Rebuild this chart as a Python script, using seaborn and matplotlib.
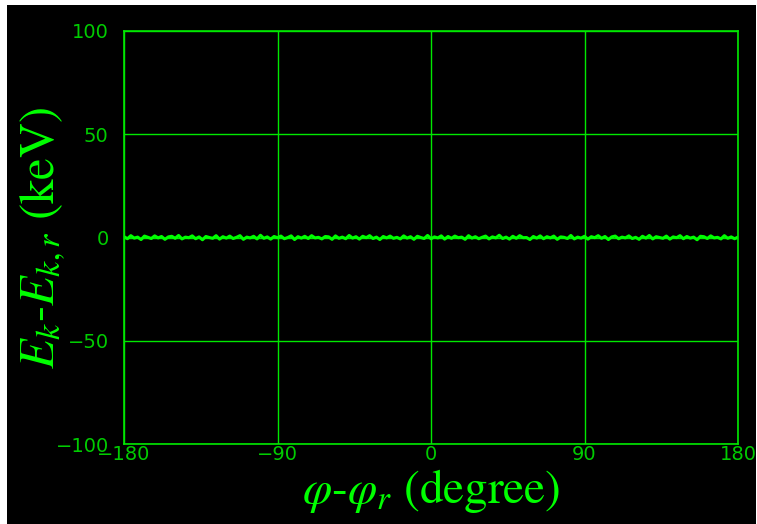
import numpy as np
import matplotlib
matplotlib.use("Agg")
import matplotlib.pyplot as plt
from matplotlib.patches import Rectangle
import pandas as pd
import seaborn as sns

# Energy deviation (keV) sampled across the phase window
dE = [
    0.4, -0.6, 0.9, -0.3, 0.2, -1.0, 0.7, 0.1, -0.5, 0.8,
    -0.2, 0.5, -0.9, 0.3, 0.6, -0.4, 1.0, -0.7, 0.2, -0.1,
    0.8, -0.6, 0.3, -1.1, 0.5, 0.0, -0.4, 0.9, -0.8, 0.4,
    -0.3, 0.7, -0.5, 0.1, 0.9, -0.9, 0.2, -0.2, 0.6, -0.7,
    1.1, -0.4, 0.3, -0.8, 0.5, -0.1, 0.7, -0.6, 0.0, 0.8,
    -1.0, 0.4, -0.3, 0.6, -0.5, 0.9, -0.2, 0.1, -0.7, 0.5,
    0.3, -0.9, 0.8, -0.4, 0.2, -0.6, 1.0, -0.3, 0.4, -0.8,
    0.6, -0.1, 0.9, -0.5, 0.2, -1.0, 0.5, -0.2, 0.7, -0.4,
    0.1, -0.7, 0.8, -0.3, 0.4, -0.9, 0.6, 0.0, -0.5, 1.0,
    -0.6, 0.3, -0.2, 0.8, -0.8, 0.5, -0.4, 0.7, -0.1, 0.2,
    -0.9, 0.9, -0.3, 0.4, -0.6, 0.1, 0.7, -0.7, 0.3, -0.2,
    1.1, -0.5, 0.2, -0.8, 0.6, -0.4, 0.9, -0.1, 0.0, -1.0,
    0.5, -0.3, 0.8, -0.6, 0.4, -0.2, 0.7, -0.9, 0.3, 0.1,
    -0.5, 1.0, -0.7, 0.2, -0.3, 0.6, -0.8, 0.4, -0.1, 0.9,
    -0.4, 0.5, -1.0, 0.3, 0.7, -0.6, 0.2, -0.2, 0.8, -0.5,
    0.1, -0.9, 0.6, -0.3, 1.0, -0.7, 0.4, 0.0, -0.4, 0.7,
    -0.8, 0.3, -0.1, 0.9, -0.6, 0.5, -0.3, 0.2, -1.1, 0.6,
    0.4, -0.5, 0.8, -0.2, 0.1, -0.7, 0.9, -0.4, 0.3, -0.6,
    0.2,
]
phi = np.linspace(-180, 180, len(dE))

x_ticks = [-180, -90, 0, 90, 180]
y_ticks = [-100, -50, 0, 50, 100]

GRID = "#00e800"
TEXT = "#00cc00"
LINE = "#00ff00"
LABEL = "#00ff00"

sns.set_theme(style="darkgrid", rc={
    "axes.facecolor": "black",
    "figure.facecolor": "white",
    "grid.color": GRID,
    "grid.linewidth": 1.0,
    "axes.edgecolor": GRID,
    "xtick.color": TEXT,
    "ytick.color": TEXT,
    "mathtext.fontset": "stix",
})
plt.rcParams["font.family"] = ["DejaVu Sans"]

fig = plt.figure(figsize=(7.57, 5.24), dpi=100)
# black canvas with a thin white frame on the top and left
fig.patches.append(Rectangle((7 / 757, 0), 749 / 757, 519 / 524,
                             transform=fig.transFigure, facecolor="black",
                             edgecolor="none", zorder=-10))
ax = fig.add_axes([124 / 757, 1 - 444 / 524, 614 / 757, 413 / 524])

df = pd.DataFrame({"phi": phi, "dE": dE})
sns.lineplot(data=df, x="phi", y="dE", ax=ax, color=LINE, linewidth=2.2)

ax.set_xlim(-180, 180)
ax.set_ylim(-100, 100)
ax.set_xticks(x_ticks)
ax.set_yticks(y_ticks)
ax.tick_params(axis="both", length=0, labelsize=14, labelcolor=TEXT)
ax.tick_params(axis="x", pad=1)
ax.tick_params(axis="y", pad=11)
for s in ax.spines.values():
    s.set_visible(True)
    s.set_color(GRID)
    s.set_linewidth(1.2)
ax.grid(True, color=GRID, linewidth=1.0)

ax.set_xlabel(r"$\varphi$-$\varphi_r$ (degree)", fontsize=34,
              family="STIXGeneral", color=LABEL, labelpad=2)
ax.set_ylabel(r"$E_k$-$E_{k,r}$ (keV)", fontsize=35,
              family="STIXGeneral", color=LABEL, labelpad=-9)

fig.savefig("out.png", dpi=100)
